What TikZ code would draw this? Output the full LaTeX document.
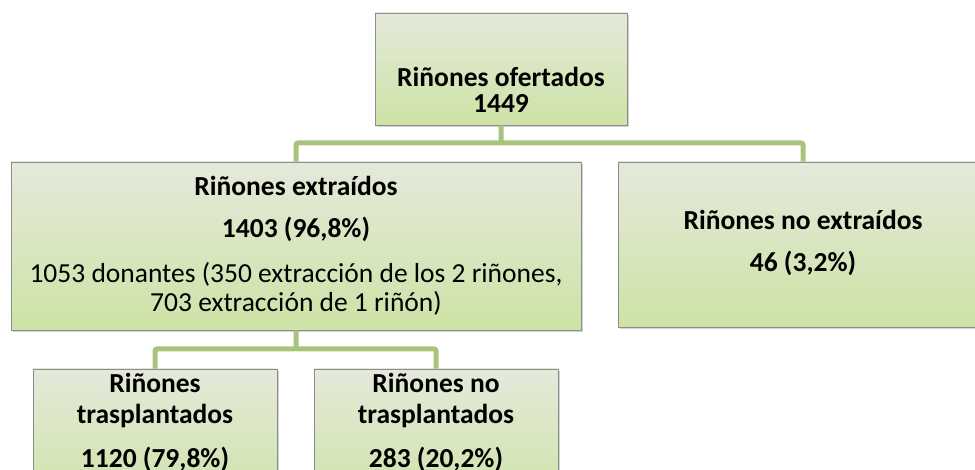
\documentclass[tikz,border=0pt]{standalone}
\usepackage{fontspec}
\setmainfont{Carlito}
\usetikzlibrary{shadows}
\definecolor{edgec}{HTML}{8C8C8C}
\definecolor{topc}{HTML}{E4E9DA}
\definecolor{botc}{HTML}{CDE3A6}
\definecolor{connc}{HTML}{A7C37C}
\tikzset{
  box/.style={draw=edgec, line width=0.8pt, top color=topc, bottom color=botc,
    drop shadow={opacity=0.35, shadow xshift=2pt, shadow yshift=-2pt},
    inner sep=0pt},
  connector/.style={draw=connc, line width=5pt, rounded corners=2pt},
  hd/.style={anchor=base, inner sep=0pt, font=\fontsize{27.5}{32}\selectfont\bfseries},
  rg/.style={anchor=base, inner sep=0pt, font=\fontsize{27.5}{32}\selectfont},
}
\begin{document}
\begin{tikzpicture}[x=1pt,y=-1pt]
\useasboundingbox (0,0) rectangle (975,470);
\clip (0,0) rectangle (975,470);
% boxes
\node[box, minimum width=252pt, minimum height=112pt] (top) at (501,69) {};
\node[box, minimum width=570pt, minimum height=168pt] (left) at (296,246) {};
\node[box, minimum width=370pt, minimum height=165pt] (right) at (803,244.5) {};
\node[box, minimum width=244pt, minimum height=140pt] (bl) at (155,439) {};
\node[box, minimum width=244pt, minimum height=140pt] (br) at (436,439) {};
% connectors
\coordinate (j1) at (501,143);
\coordinate (j2) at (296,349);
\draw[connector] (top.south) -- (j1) -| (left.north);
\draw[connector] (j1) -| (right.north);
\draw[connector] (left.south) -- (j2) -| (bl.north);
\draw[connector] (j2) -| (br.north);
% texts
\node[hd] (t1) at (501,87) {Riñones ofertados};
\node[hd] (t2) at (501,113) {1449};
\node[hd] (l1) at (296,196) {Riñones extraídos};
\node[hd] (l2) at (296,238) {1403 (96,8\%)};
\node[rg] (l3) at (296,283) {1053 donantes (350 extracción de los 2 riñones,};
\node[rg] (l4) at (296,312) {703 extracción de 1 riñón)};
\node[hd] (r1) at (803,230) {Riñones no extraídos};
\node[hd] (r2) at (803,272) {46 (3,2\%)};
\node[hd] (b1) at (155,392) {Riñones};
\node[hd] (b2) at (155,424) {trasplantados};
\node[hd] (b3) at (155,467) {1120 (79,8\%)};
\node[hd] (c1) at (436,392) {Riñones no};
\node[hd] (c2) at (436,424) {trasplantados};
\node[hd] (c3) at (436,467) {283 (20,2\%)};
\end{tikzpicture}
\end{document}
